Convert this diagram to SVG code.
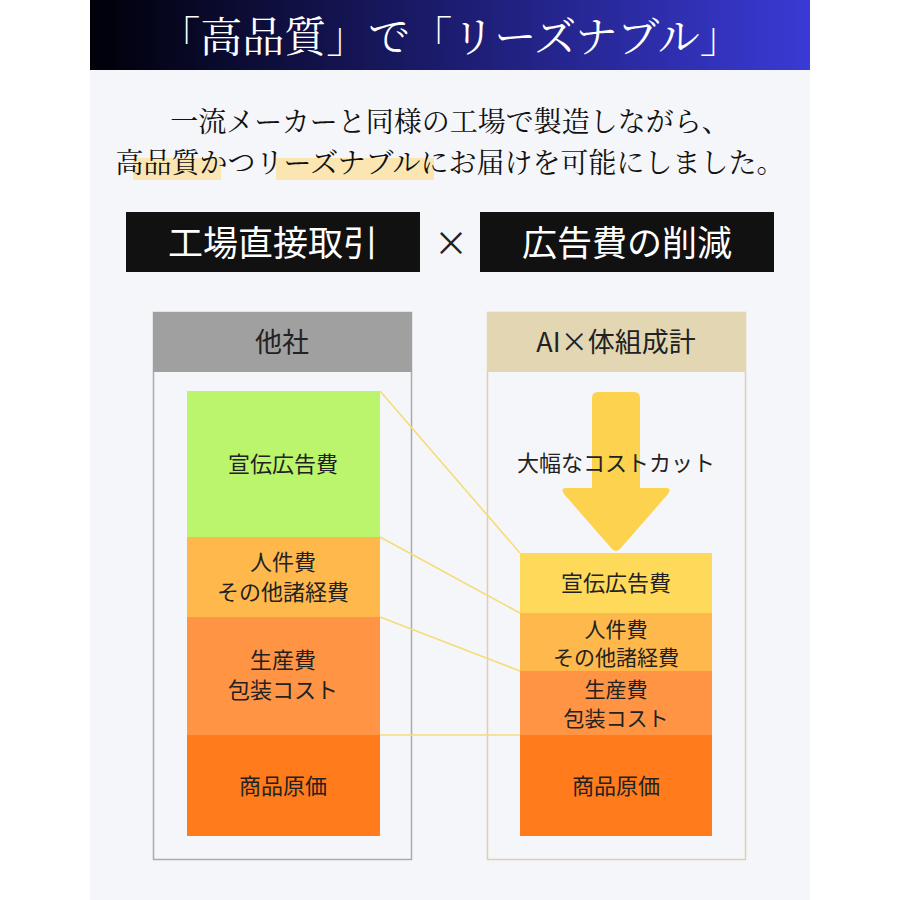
<svg xmlns="http://www.w3.org/2000/svg" width="900" height="900" viewBox="0 0 900 900">
<defs>
<linearGradient id="hg" x1="0" x2="1" y1="0" y2="0"><stop offset="0" stop-color="#000008"/><stop offset="0.5" stop-color="#1c1c70"/><stop offset="1" stop-color="#3a3ad6"/></linearGradient>
<style>
.s{font-family:"Noto Sans CJK JP","Noto Sans",sans-serif;fill:#222;text-anchor:middle}
.m{font-family:"Noto Serif CJK JP","Noto Sans CJK JP",serif;text-anchor:middle}
.c{stroke:#f5dc78;stroke-width:1.6;fill:none}
</style>
</defs>
<rect width="900" height="900" fill="#fff"/>
<rect x="90" y="0" width="720" height="900" fill="#f5f6fa"/>
<rect x="90" y="0" width="720" height="70" fill="url(#hg)"/>
<text class="m" x="450" y="52" font-size="42" fill="#fff">「高品質」で「リーズナブル」</text>
<rect x="133" y="158" width="88" height="22" fill="#fbe6b2"/>
<rect x="276" y="158" width="158" height="22" fill="#fbe6b2"/>
<text class="m" x="450" y="132" font-size="28" fill="#111">一流メーカーと同様の工場で製造しながら、</text>
<text class="m" x="450" y="173" font-size="28" fill="#111">高品質かつリーズナブルにお届けを可能にしました。</text>
<g id="label1"><rect x="126" y="212" width="294" height="60" fill="#111"/><text class="s" x="273" y="256" font-size="35" style="fill:#fff">工場直接取引</text></g>
<text class="s" x="451" y="256" font-size="34">×</text>
<g id="label2"><rect x="480" y="212" width="294" height="60" fill="#111"/><text class="s" x="627" y="256" font-size="35" style="fill:#fff">広告費の削減</text></g>
<g id="left">
<rect x="153.5" y="312.5" width="258" height="547" fill="none" stroke="#aaa" stroke-width="1.5"/>
<rect x="153" y="312" width="259" height="60" fill="#a0a0a0"/>
<text class="s" x="282" y="352" font-size="27">他社</text>
<rect x="187" y="391" width="193" height="146" fill="#bbf56c"/>
<text class="s" x="283" y="472" font-size="22">宣伝広告費</text>
<rect x="187" y="537" width="193" height="80" fill="#ffb84c"/>
<text class="s" x="283" y="570" font-size="22">人件費</text>
<text class="s" x="283" y="600" font-size="22">その他諸経費</text>
<rect x="187" y="617" width="193" height="118" fill="#ff9444"/>
<text class="s" x="283" y="668" font-size="22">生産費</text>
<text class="s" x="283" y="698" font-size="22">包装コスト</text>
<rect x="187" y="735" width="193" height="101" fill="#ff7b1c"/>
<text class="s" x="283" y="794" font-size="22">商品原価</text>
</g>
<g id="right">
<rect x="487.5" y="312.5" width="258" height="547" fill="none" stroke="#ddd0b0" stroke-width="1.5"/>
<rect x="487" y="312" width="259" height="60" fill="#e3d6b2"/>
<text class="s" x="616" y="352" font-size="27">AI×体組成計</text>
<path d="M598,392 H634 Q640,392 640,398 V488 H666 Q672,488 668,494 L620,549 Q616,553 612,549 L564,494 Q560,488 566,488 H592 V398 Q592,392 598,392 Z" fill="#fdd24e"/>
<text class="s" x="616" y="471" font-size="22">大幅なコストカット</text>
<rect x="520" y="553" width="192" height="60" fill="#ffd95a"/>
<text class="s" x="616" y="591" font-size="22">宣伝広告費</text>
<rect x="520" y="613" width="192" height="58" fill="#ffb84c"/>
<text class="s" x="616" y="637" font-size="21">人件費</text>
<text class="s" x="616" y="665" font-size="21">その他諸経費</text>
<rect x="520" y="671" width="192" height="64" fill="#ff9444"/>
<text class="s" x="616" y="697" font-size="21">生産費</text>
<text class="s" x="616" y="726" font-size="21">包装コスト</text>
<rect x="520" y="735" width="192" height="101" fill="#ff7b1c"/>
<text class="s" x="616" y="794" font-size="22">商品原価</text>
</g>
<g id="connectors">
<path class="c" d="M380,391 L520,553"/>
<path class="c" d="M380,537 L520,613"/>
<path class="c" d="M380,617 L520,671"/>
<path class="c" d="M380,735 L520,735"/>
</g>
</svg>
